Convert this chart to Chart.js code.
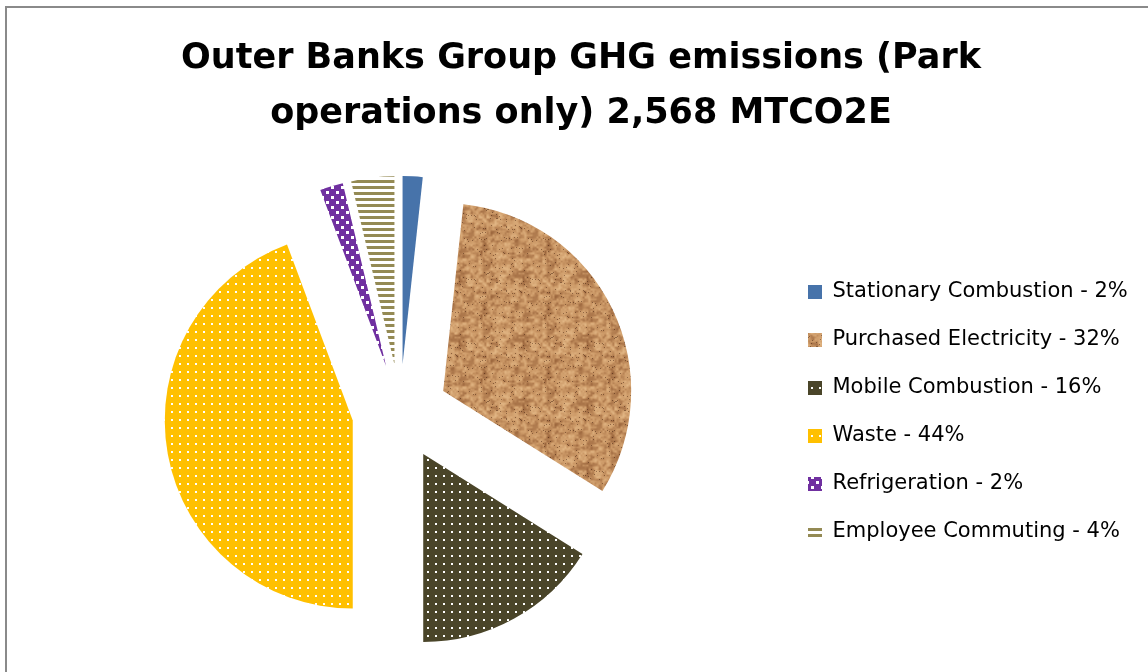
<!DOCTYPE html>
<html>
<head>
<meta charset="utf-8">
<script src="https://cdn.jsdelivr.net/npm/chart.js@4.4.1/dist/chart.umd.min.js"></script>
<style>
  html, body { margin: 0; padding: 0; background: #ffffff; overflow: hidden; }
  #wrap { position: relative; width: 1148px; height: 672px; }
  #c { position: absolute; left: 0; top: 0; }
  #frame { position: absolute; left: 5px; top: 6px; right: -10px; bottom: -10px;
           border-left: 2px solid #8a8a8a; border-top: 2px solid #8a8a8a; pointer-events: none; }
</style>
</head>
<body>
<div id="wrap">
  <canvas id="c" width="1148" height="672"></canvas>
  <div id="frame"></div>
</div>
<script>
// ---- data ----
const titleLines = ["Outer Banks Group GHG emissions (Park", "operations only) 2,568 MTCO2E"];
const categories = [
  "Stationary Combustion - 2%",
  "Purchased Electricity - 32%",
  "Mobile Combustion - 16%",
  "Waste - 44%",
  "Refrigeration - 2%",
  "Employee Commuting - 4%"
];
const emissionsMTCO2E = [44, 827, 413, 1138, 51, 95];

// ---- fill patterns (style only) ----
function makeTile(w, h, paint) {
  const cv = document.createElement('canvas');
  cv.width = w; cv.height = h;
  const g = cv.getContext('2d');
  paint(g, w, h);
  return document.getElementById('c').getContext('2d').createPattern(cv, 'repeat');
}
function dotPattern(bg) {
  return makeTile(8, 8, (g) => {
    g.fillStyle = bg; g.fillRect(0, 0, 8, 8);
    g.fillStyle = '#ffffff'; g.fillRect(3, 3, 2, 2);
  });
}
function hash(x, y) {
  let h = (Math.imul(x, 374761393) + Math.imul(y, 668265263)) | 0;
  h = Math.imul(h ^ (h >>> 13), 1274126177);
  h = h ^ (h >>> 16);
  return (h >>> 0) / 4294967295;
}
function valueNoise(px, py, cell, period) {
  const gx = px / cell, gy = py / cell;
  const x0 = Math.floor(gx), y0 = Math.floor(gy);
  const fx = gx - x0, fy = gy - y0;
  const sx = fx * fx * (3 - 2 * fx), sy = fy * fy * (3 - 2 * fy);
  const m = (v) => ((v % period) + period) % period;
  const a = hash(m(x0), m(y0)), b = hash(m(x0 + 1), m(y0));
  const c = hash(m(x0), m(y0 + 1)), d = hash(m(x0 + 1), m(y0 + 1));
  return (a * (1 - sx) + b * sx) * (1 - sy) + (c * (1 - sx) + d * sx) * sy;
}
function corkPattern() {
  const N = 64;
  return makeTile(N, N, (g) => {
    const img = g.createImageData(N, N);
    for (let y = 0; y < N; y++) {
      for (let x = 0; x < N; x++) {
        const n = 0.6 * valueNoise(x, y, 4, N / 4) + 0.4 * valueNoise(x + 7, y + 3, 2, N / 2);
        let r, gg, b;
        if (n < 0.5) {
          const t = n / 0.5;
          r = 150 + (203 - 150) * t; gg = 96 + (152 - 96) * t; b = 56 + (102 - 56) * t;
        } else {
          const t = (n - 0.5) / 0.5;
          r = 203 + (230 - 203) * t; gg = 152 + (188 - 152) * t; b = 102 + (138 - 102) * t;
        }
        const s = hash(x * 3 + 11, y * 5 + 17);
        if (s > 0.975) { r *= 0.68; gg *= 0.62; b *= 0.58; }
        const i = (y * N + x) * 4;
        img.data[i] = r; img.data[i + 1] = gg; img.data[i + 2] = b; img.data[i + 3] = 255;
      }
    }
    g.putImageData(img, 0, 0);
  });
}
function checkPattern() {
  return makeTile(10, 10, (g) => {
    g.fillStyle = '#7030a0'; g.fillRect(0, 0, 10, 10);
    g.fillStyle = '#ffffff';
    g.fillRect(6, 1, 3, 3);
    g.fillRect(1, 6, 3, 3);
  });
}
function stripePattern() {
  return makeTile(6, 6, (g) => {
    g.fillStyle = '#ffffff'; g.fillRect(0, 0, 6, 6);
    g.fillStyle = '#948a54'; g.fillRect(0, 0, 6, 3);
  });
}

const sliceFills = [
  '#4773aa',
  corkPattern(),
  dotPattern('#4a4529'),
  dotPattern('#ffc000'),
  checkPattern(),
  stripePattern()
];

// exploded pie: push each slice out along its own bisector
const explodePlugin = {
  id: 'explode',
  afterDatasetsUpdate(chart) {
    const dist = 48;
    chart.getDatasetMeta(0).data.forEach((arc) => {
      const mid = (arc.startAngle + arc.endAngle) / 2;
      arc.x += Math.cos(mid) * dist;
      arc.y += Math.sin(mid) * dist;
    });
  }
};
// keep the legend column a fixed width so the pie sits where it should
const legendWidthPlugin = {
  id: 'legendWidth',
  beforeLayout(chart) {
    const lg = chart.legend;
    if (lg && !lg.__fixedWidth) {
      const fit = lg.fit.bind(lg);
      lg.fit = function () { fit(); this.width = 362; };
      lg.__fixedWidth = true;
    }
  }
};

Chart.defaults.color = '#000000';

new Chart(document.getElementById('c'), {
  type: 'pie',
  data: {
    labels: categories,
    datasets: [{
      data: emissionsMTCO2E,
      backgroundColor: sliceFills,
      borderWidth: 0,
      hoverOffset: 0,
      clip: false
    }]
  },
  options: {
    responsive: false,
    animation: false,
    events: [],
    radius: 188,
    layout: { padding: { left: 19, right: 5, top: 0, bottom: 0 } },
    plugins: {
      title: {
        display: true,
        text: titleLines,
        color: '#000000',
        font: { family: 'DejaVu Sans', weight: 'bold', size: 35, lineHeight: '55px' },
        padding: { top: 31, bottom: 11 }
      },
      legend: {
        display: true,
        position: 'right',
        align: 'center',
        fullSize: false,
        labels: {
          boxWidth: 14,
          boxHeight: 14,
          padding: 27,
          color: '#000000',
          font: { family: 'DejaVu Sans', size: 21 }
        }
      },
      tooltip: { enabled: false }
    }
  },
  plugins: [explodePlugin, legendWidthPlugin]
});
</script>
</body>
</html>
